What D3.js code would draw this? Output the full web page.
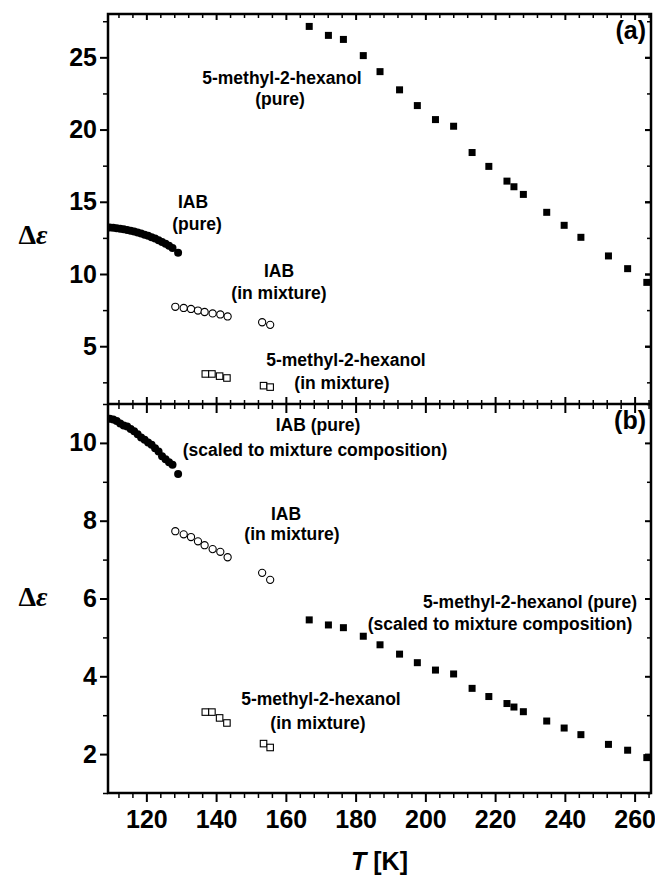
<!DOCTYPE html>
<html><head><meta charset="utf-8">
<script src="https://cdn.jsdelivr.net/npm/d3@7"></script>
<style>
body{margin:0;background:#fff}
svg{display:block}
text{font-family:"Liberation Sans",Arial,Helvetica,sans-serif;fill:#000}
</style>
</head><body>
<svg id="chart" width="655" height="876"></svg>
<script>
// ---------- data ----------
const xTickLabels = [120, 140, 160, 180, 200, 220, 240, 260];
const yTicksA = [5, 10, 15, 20, 25];
const yTicksB = [2, 4, 6, 8, 10];

// 5-methyl-2-hexanol, pure
const T_M2H = [166.7, 172.2, 176.5, 182.2, 187.0, 192.6, 197.7, 202.9, 208.1, 213.4,
               218.2, 223.4, 225.4, 228.1, 234.8, 239.8, 244.6, 252.5, 258.0, 263.5];
const M2H_pure_a = [27.14, 26.52, 26.24, 25.12, 24.01, 22.75, 21.66, 20.69, 20.23, 18.41,
                    17.45, 16.43, 16.04, 15.51, 14.27, 13.37, 12.54, 11.25, 10.37, 9.42];
const M2H_pure_b = [5.45, 5.32, 5.25, 5.03, 4.81, 4.57, 4.35, 4.16, 4.06, 3.69,
                    3.48, 3.30, 3.21, 3.09, 2.85, 2.67, 2.50, 2.25, 2.10, 1.91];

// IAB, pure
const T_IAB = [109.5, 110.5, 111.5, 112.5, 113.5, 114.5, 115.5, 116.5, 117.5, 118.5, 119.5,
               120.5, 121.5, 122.5, 123.5, 124.5, 125.5, 126.5, 127.5, 129.1];
const IAB_pure_a = [13.22, 13.20, 13.17, 13.14, 13.10, 13.05, 13.00, 12.95, 12.88, 12.80, 12.72,
                    12.64, 12.55, 12.45, 12.34, 12.22, 12.10, 11.96, 11.80, 11.47];
const IAB_pure_b = [10.62, 10.60, 10.56, 10.50, 10.45, 10.42, 10.36, 10.30, 10.22, 10.14, 10.08,
                    10.01, 9.95, 9.86, 9.78, 9.66, 9.58, 9.50, 9.44, 9.20];

// IAB, in mixture
const T_IAB_mix = [128.3, 130.7, 132.8, 134.8, 136.7, 139.0, 141.2, 143.3, 153.2, 155.5];
const IAB_mix = [7.73, 7.65, 7.58, 7.47, 7.37, 7.27, 7.20, 7.06, 6.66, 6.48];

// 5-methyl-2-hexanol, in mixture
const T_M2H_mix = [136.9, 138.8, 141.0, 143.1, 153.6, 155.5];
const M2H_mix = [3.08, 3.08, 2.93, 2.80, 2.27, 2.17];

// ---------- layout ----------
const L = 108, R = 651, TOP = 14, MID = 404, BOT = 793;
const svg = d3.select("#chart");

const x = d3.scaleLinear().domain([109, 264.7]).range([L, R]);
const yA = d3.scaleLinear().domain([1, 28]).range([MID, TOP]);
const yB = d3.scaleLinear().domain([1, 11]).range([BOT, MID]);

const xMinor = d3.range(112, 265, 4).filter(v => v % 20 !== 0);
const yMinorA = d3.range(2.5, 28, 5);
const yMinorB = [1, 3, 5, 7, 9, 11];

function styleAxis(g) {
  g.select(".domain").remove();
  g.selectAll(".tick line").attr("stroke", "#000");
}
function addAxis(axis, tx, ty, width) {
  const g = svg.append("g").attr("transform", `translate(${tx},${ty})`).call(axis);
  styleAxis(g);
  g.selectAll(".tick line").attr("stroke-width", width);
  return g;
}

// x axes: top of (a) (inward), middle line (both sides), bottom (outward)
addAxis(d3.axisBottom(x).tickValues(xTickLabels).tickSize(6).tickFormat(""), 0, TOP, 2);
addAxis(d3.axisBottom(x).tickValues(xMinor).tickSize(4).tickFormat(""), 0, TOP, 1.5);
addAxis(d3.axisTop(x).tickValues(xTickLabels).tickSize(7).tickFormat(""), 0, MID, 2);
addAxis(d3.axisTop(x).tickValues(xMinor).tickSize(4).tickFormat(""), 0, MID, 1.5);
addAxis(d3.axisBottom(x).tickValues(xTickLabels).tickSize(9).tickFormat(""), 0, MID, 2);
addAxis(d3.axisBottom(x).tickValues(xMinor).tickSize(5).tickFormat(""), 0, MID, 1.5);
const gxb = addAxis(d3.axisBottom(x).tickValues(xTickLabels).tickSize(9).tickPadding(8).tickFormat(d3.format("d")), 0, BOT, 2);
addAxis(d3.axisBottom(x).tickValues(xMinor).tickSize(5).tickFormat(""), 0, BOT, 1.5);
gxb.selectAll("text").attr("font-size", 25).attr("font-weight", "bold");

// y axes: left outward with labels, right inward
const gya = addAxis(d3.axisLeft(yA).tickValues(yTicksA).tickSize(8).tickPadding(3).tickFormat(d3.format("d")), L, 0, 2);
addAxis(d3.axisLeft(yA).tickValues(yMinorA).tickSize(5).tickFormat(""), L, 0, 1.5);
addAxis(d3.axisLeft(yA).tickValues(yTicksA).tickSize(6).tickFormat(""), R, 0, 2).attr("transform", `translate(${R},0)`);
const gyb = addAxis(d3.axisLeft(yB).tickValues(yTicksB).tickSize(8).tickPadding(3).tickFormat(d3.format("d")), L, 0, 2);
addAxis(d3.axisLeft(yB).tickValues(yMinorB).tickSize(5).tickFormat(""), L, 0, 1.5);
// right side ticks inward (pointing left)
addAxis(d3.axisRight(yA).tickValues(yTicksA).tickSize(-6).tickFormat(""), R, 0, 2);
addAxis(d3.axisRight(yA).tickValues(yMinorA).tickSize(-4).tickFormat(""), R, 0, 1.5);
addAxis(d3.axisRight(yB).tickValues(yTicksB).tickSize(-6).tickFormat(""), R, 0, 2);
addAxis(d3.axisRight(yB).tickValues(yMinorB).tickSize(-4).tickFormat(""), R, 0, 1.5);
[gya, gyb].forEach(g => g.selectAll("text").attr("font-size", 25).attr("font-weight", "bold"));

// frame
svg.append("rect").attr("x", L).attr("y", TOP).attr("width", R - L).attr("height", BOT - TOP)
  .attr("fill", "none").attr("stroke", "#000").attr("stroke-width", 2.5);
svg.append("line").attr("x1", L).attr("x2", R).attr("y1", MID).attr("y2", MID)
  .attr("stroke", "#000").attr("stroke-width", 2.5);

// ---------- marks ----------
const clipA = svg.append("clipPath").attr("id", "clipA").append("rect")
  .attr("x", L).attr("y", TOP).attr("width", R - L).attr("height", MID - TOP);
const clipB = svg.append("clipPath").attr("id", "clipB").append("rect")
  .attr("x", L).attr("y", MID).attr("width", R - L).attr("height", BOT - MID);

function squares(g, T, V, y, filled, s) {
  g.selectAll(null).data(T.map((t, i) => [t, V[i]])).join("rect")
    .attr("x", d => x(d[0]) - s / 2).attr("y", d => y(d[1]) - s / 2)
    .attr("width", s).attr("height", s)
    .attr("fill", filled ? "#000" : "#fff").attr("stroke", "#000").attr("stroke-width", filled ? 0 : 1.1);
}
function circles(g, T, V, y, filled, r) {
  g.selectAll(null).data(T.map((t, i) => [t, V[i]])).join("circle")
    .attr("cx", d => x(d[0])).attr("cy", d => y(d[1])).attr("r", r)
    .attr("fill", filled ? "#000" : "#fff").attr("stroke", "#000").attr("stroke-width", filled ? 0 : 1.1);
}

const gA = svg.append("g").attr("clip-path", "url(#clipA)");
const gB = svg.append("g").attr("clip-path", "url(#clipB)");

squares(gA, T_M2H, M2H_pure_a, yA, true, 7);
circles(gA, T_IAB, IAB_pure_a, yA, true, 4);
circles(gA, T_IAB_mix, IAB_mix, yA, false, 3.6);
squares(gA, T_M2H_mix, M2H_mix, yA, false, 6.5);

squares(gB, T_M2H, M2H_pure_b, yB, true, 7);
circles(gB, T_IAB, IAB_pure_b, yB, true, 4);
circles(gB, T_IAB_mix, IAB_mix, yB, false, 3.6);
squares(gB, T_M2H_mix, M2H_mix, yB, false, 6.5);

// ---------- annotations ----------
const notes = [
  ["5-methyl-2-hexanol", 282, 84], ["(pure)", 280, 105],
  ["IAB", 193, 208], ["(pure)", 197, 230],
  ["IAB", 279, 277], ["(in mixture)", 279, 299],
  ["5-methyl-2-hexanol", 346, 366], ["(in mixture)", 342, 389],
  ["IAB (pure)", 318, 431], ["(scaled to mixture composition)", 315, 456],
  ["IAB", 286, 520], ["(in mixture)", 292, 540],
  ["5-methyl-2-hexanol (pure)", 530, 608], ["(scaled to mixture composition)", 500, 630],
  ["5-methyl-2-hexanol", 321, 705], ["(in mixture)", 318, 729]
];
svg.append("g").selectAll("text").data(notes).join("text")
  .attr("x", d => d[1]).attr("y", d => d[2]).attr("text-anchor", "middle")
  .attr("font-size", 17.5).attr("font-weight", "bold").text(d => d[0]);

svg.append("text").attr("x", 646).attr("y", 39).attr("text-anchor", "end")
  .attr("font-size", 25).attr("font-weight", "bold").text("(a)");
svg.append("text").attr("x", 646).attr("y", 429).attr("text-anchor", "end")
  .attr("font-size", 25).attr("font-weight", "bold").text("(b)");

function deltaEps(cx, cy) {
  const t = svg.append("text").attr("x", cx).attr("y", cy).attr("text-anchor", "middle")
    .style("font-family", "'Liberation Serif','Times New Roman',serif").attr("font-size", 28).attr("font-weight", "bold");
  t.append("tspan").text("Δ");
  t.append("tspan").attr("font-style", "italic").text("ε");
}
deltaEps(33, 244);
deltaEps(33, 606);

const xt = svg.append("text").attr("x", (L + R) / 2).attr("y", 870).attr("text-anchor", "middle")
  .attr("font-size", 25).attr("font-weight", "bold");
xt.append("tspan").attr("font-style", "italic").text("T");
xt.append("tspan").text(" [K]");
</script>
</body></html>
